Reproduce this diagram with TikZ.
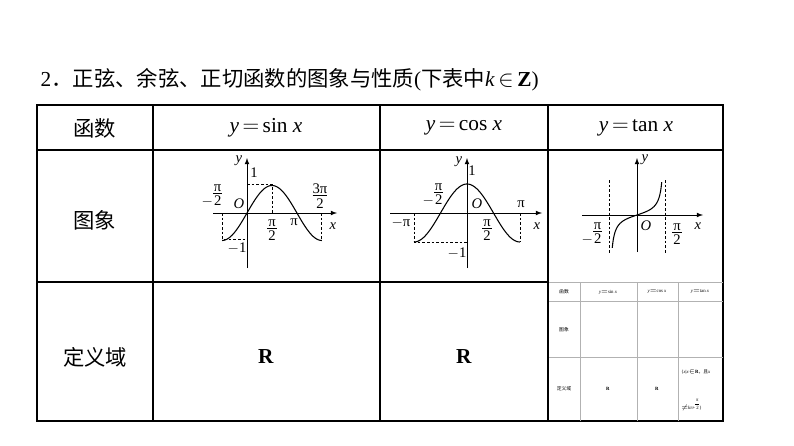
\documentclass[tikz,border=0pt]{standalone}
\usepackage{fontspec}
\setmainfont{Liberation Serif}
\newfontfamily\cjk{Noto Sans CJK SC}
\begin{document}
\begin{tikzpicture}[x=0.75pt,y=-0.75pt,
  grid/.style={line width=0.9pt},
  ax/.style={line width=0.6pt,-latex},
  crv/.style={line width=0.8pt},
  dsh/.style={dashed,line width=0.5pt,dash pattern=on 2pt off 1.5pt},
  lb/.style={inner sep=0.5pt,font=\fontsize{11}{11.5}\selectfont},
  cell/.style={font=\fontsize{16}{18}\selectfont},
  mini/.style={draw=gray!60,line width=0.4pt},
  tiny/.style={font=\fontsize{3.6}{4.2}\selectfont,inner sep=0pt}]
\useasboundingbox (0,0) rectangle (794,446);
\node[anchor=west,font=\fontsize{16}{18}\selectfont] (title) at (36,80) {2{\cjk ．正弦、余弦、正切函数的图象与性质}({\cjk 下表中}\textit{k}\,$\in$\,\textbf{Z})};
% table grid
\draw[grid] (37,105) rectangle (723,421);
\draw[grid] (37,150) -- (723,150) (37,282) -- (548,282);
\draw[grid] (153,105) -- (153,421) (380,105) -- (380,421) (548,105) -- (548,282);
% headers
\node[cell] (h0) at (95,128) {\cjk 函数};
\node[cell] (h1) at (266,128) {\textit{y}\,$=$\,sin \textit{x}};
\node[cell] (h2) at (464,128) {\textit{y}\,$=$\,cos \textit{x}};
\node[cell] (h3) at (636,128) {\textit{y}\,$=$\,tan \textit{x}};
\node[cell] (r1) at (95,220) {\cjk 图象};
\node[cell] (r2) at (95,357) {\cjk 定义域};
\node[cell] (d1) at (266,357) {\textbf{R}};
\node[cell] (d2) at (464,357) {\textbf{R}};
% sin graph
\draw[ax] (213,213) -- (337,213);
\draw[ax] (247,268) -- (247,158);
\draw[dsh] (247,184) -- (272,184) -- (272,213);
\draw[dsh] (222,213) -- (222,239) -- (247,239);
\draw[dsh] (321,213) -- (321,239);
\draw[crv,domain=-1.5708:4.7124,samples=80,smooth] plot ({247+\x*15.9},{213-27.5*sin(\x r)});
\node[lb] (s-y) at (239,161) {\textit{y}};
\node[lb] (s-1) at (254,173) {1};
\node[lb] (s-o) at (239,204) {\textit{O}};
\node[lb,align=center] (s-a) at (212,196) {$-$\shortstack{π\\[-2pt]\rule{7pt}{0.4pt}\\[-1pt]2}};
\node[lb] (s-b) at (272,230) {\shortstack{π\\[-2pt]\rule{7pt}{0.4pt}\\[-1pt]2}};
\node[lb] (s-c) at (294,222) {π};
\node[lb] (s-d) at (320,196) {\shortstack{3π\\[-2pt]\rule{11pt}{0.4pt}\\[-1pt]2}};
\node[lb] (s-x) at (333,226) {\textit{x}};
\node[lb] (s-m) at (237,248) {$-$1};
% cos graph
\draw[ax] (390,213) -- (542,213);
\draw[ax] (467,268) -- (467,158);
\draw[dsh] (414,213) -- (414,242) -- (467,242);
\draw[dsh] (520,213) -- (520,242);
\draw[crv,domain=-3.1416:3.1416,samples=80,smooth] plot ({467+\x*16.87},{213-29*cos(\x r)});
\node[lb] (c-y) at (459,162) {\textit{y}};
\node[lb] (c-1) at (472,171) {1};
\node[lb] (c-o) at (477,204) {\textit{O}};
\node[lb] (c-a) at (433,195) {$-$\shortstack{π\\[-2pt]\rule{7pt}{0.4pt}\\[-1pt]2}};
\node[lb] (c-b) at (487,230) {\shortstack{π\\[-2pt]\rule{7pt}{0.4pt}\\[-1pt]2}};
\node[lb] (c-p) at (521,204) {π};
\node[lb] (c-m) at (401,223) {$-$π};
\node[lb] (c-x) at (537,226) {\textit{x}};
\node[lb] (c-n) at (457,253) {$-$1};
% tan graph
\draw[ax] (582,215) -- (703,215);
\draw[ax] (637,252) -- (637,158);
\draw[dsh] (609,180) -- (609,253);
\draw[dsh] (665,180) -- (665,253);
\draw[crv,domain=-1.39:1.39,samples=80,smooth] plot ({637+\x*17.8},{215-6*tan(\x r)});
\node[lb] (t-y) at (645,160) {\textit{y}};
\node[lb] (t-o) at (646,226) {\textit{O}};
\node[lb] (t-a) at (592,234) {$-$\shortstack{π\\[-2pt]\rule{7pt}{0.4pt}\\[-1pt]2}};
\node[lb] (t-b) at (677,234) {\shortstack{π\\[-2pt]\rule{7pt}{0.4pt}\\[-1pt]2}};
\node[lb] (t-x) at (698,226) {\textit{x}};
% inset mini table
\draw[mini] (548,282) -- (723,282) (548,301) -- (723,301) (548,357) -- (723,357);
\draw[mini] (580,282) -- (580,421) (637,282) -- (637,421) (678,282) -- (678,421);
\draw[line width=0.9pt] (548,282) -- (548,421);
\node[tiny] (m0) at (564,292) {\cjk 函数};
\node[tiny] (m1) at (608,292) {\textit{y}$=$sin \textit{x}};
\node[tiny] (m2) at (657,292) {\textit{y}$=$cos \textit{x}};
\node[tiny] (m3) at (700,292) {\textit{y}$=$tan \textit{x}};
\node[tiny] (m4) at (564,330) {\cjk 图象};
\node[tiny] (m5) at (564,389) {\cjk 定义域};
\node[tiny] (m6) at (608,389) {\textbf{R}};
\node[tiny] (m7) at (657,389) {\textbf{R}};
\node[tiny,anchor=west] (m8) at (681,372) {\{\textit{x}|\textit{x}$\in$\textbf{R}{\cjk ，且}\textit{x}};
\node[tiny,anchor=west] (m9) at (681,405) {$\neq$\textit{k}π+\shortstack{π\\[-1pt]\rule{3pt}{0.2pt}\\[-1pt]2}\}};
\end{tikzpicture}
\end{document}
